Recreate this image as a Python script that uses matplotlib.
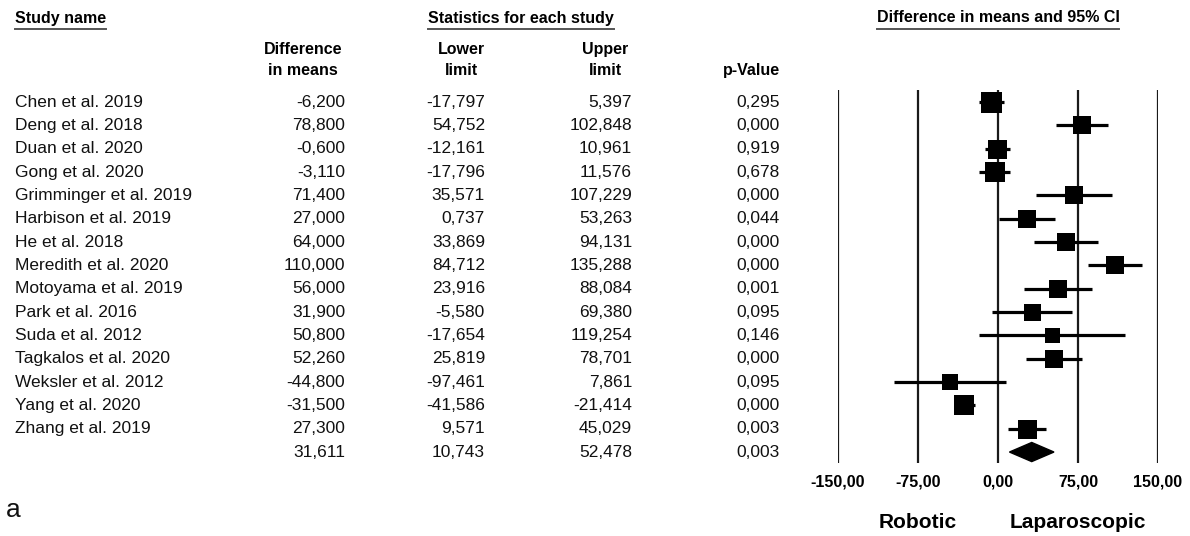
import numpy as np
import matplotlib
matplotlib.use('Agg')
import matplotlib.pyplot as plt
from matplotlib.transforms import blended_transform_factory
from matplotlib.lines import Line2D

plt.rcParams['font.family'] = ['Liberation Sans', 'DejaVu Sans']

# data
study_names = ['Chen et al. 2019', 'Deng et al. 2018', 'Duan et al. 2020', 'Gong et al. 2020',
               'Grimminger et al. 2019', 'Harbison et al. 2019', 'He et al. 2018', 'Meredith et al. 2020',
               'Motoyama et al. 2019', 'Park et al. 2016', 'Suda et al. 2012', 'Tagkalos et al. 2020',
               'Weksler et al. 2012', 'Yang et al. 2020', 'Zhang et al. 2019']
diff_means = [-6.200, 78.800, -0.600, -3.110, 71.400, 27.000, 64.000, 110.000,
              56.000, 31.900, 50.800, 52.260, -44.800, -31.500, 27.300]
lower_limit = [-17.797, 54.752, -12.161, -17.796, 35.571, 0.737, 33.869, 84.712,
               23.916, -5.580, -17.654, 25.819, -97.461, -41.586, 9.571]
upper_limit = [5.397, 102.848, 10.961, 11.576, 107.229, 53.263, 94.131, 135.288,
               88.084, 69.380, 119.254, 78.701, 7.861, -21.414, 45.029]
p_values = [0.295, 0.000, 0.919, 0.678, 0.000, 0.044, 0.000, 0.000,
            0.001, 0.095, 0.146, 0.000, 0.095, 0.000, 0.003]
# relative weight (box size) of each study
weights = [21, 18, 19, 20, 18, 18, 18, 18, 18, 17, 15, 18, 16, 20, 19]

# pooled estimate
pooled_diff = 31.611
pooled_lower = 10.743
pooled_upper = 52.478
pooled_p = 0.003

x_ticks = [-150, -75, 0, 75, 150]
x_tick_labels = ['-150,00', '-75,00', '0,00', '75,00', '150,00']


def fmt(v):
    # european decimal comma
    return ('%.3f' % v).replace('.', ',')


fig = plt.figure(figsize=(11.9, 5.36), dpi=100)

# pixel based axes for the table part
ax_tab = fig.add_axes([0, 0, 1, 1])
ax_tab.set_xlim(0, 1190)
ax_tab.set_ylim(536, 0)
ax_tab.axis('off')

# forest plot axes
ax = fig.add_axes([838 / 1190, 1 - 463 / 536, 320 / 1190, 373 / 536])
ax.set_facecolor('none')
n = len(study_names)
rows = np.arange(n)
ax.set_xlim(-150, 150)
ax.set_ylim(15.47, -0.515)

for xt in x_ticks:
    ax.axvline(xt, color='#1a1a1a', lw=1.6, zorder=1)

ax.hlines(rows, lower_limit, upper_limit, color='black', lw=2.3, zorder=2)
for i in range(n):
    ax.plot(diff_means[i], rows[i], marker='s', color='black', markersize=weights[i] * 0.72,
            markeredgewidth=0, zorder=3)

# pooled diamond
r = n
h = 0.41
ax.fill([pooled_lower, pooled_diff, pooled_upper, pooled_diff], [r, r - h, r, r + h],
        color='black', zorder=3)

ax.set_xticks(x_ticks)
ax.set_xticklabels(x_tick_labels, fontsize=11.5, fontweight='bold')
ax.tick_params(axis='x', length=0, pad=8)
ax.set_yticks([])
for s in ax.spines.values():
    s.set_visible(False)

# table text, rows follow the forest plot rows
tr = blended_transform_factory(ax_tab.transData, ax.transData)
fs = 12.5
for i in range(n):
    ax_tab.text(15, rows[i], study_names[i], transform=tr, fontsize=fs, va='center', ha='left', color='#111111')
    ax_tab.text(345, rows[i], fmt(diff_means[i]), transform=tr, fontsize=fs, va='center', ha='right', color='#111111')
    ax_tab.text(485, rows[i], fmt(lower_limit[i]), transform=tr, fontsize=fs, va='center', ha='right', color='#111111')
    ax_tab.text(632, rows[i], fmt(upper_limit[i]), transform=tr, fontsize=fs, va='center', ha='right', color='#111111')
    ax_tab.text(780, rows[i], fmt(p_values[i]), transform=tr, fontsize=fs, va='center', ha='right', color='#111111')
ax_tab.text(345, n, fmt(pooled_diff), transform=tr, fontsize=fs, va='center', ha='right', color='#111111')
ax_tab.text(485, n, fmt(pooled_lower), transform=tr, fontsize=fs, va='center', ha='right', color='#111111')
ax_tab.text(632, n, fmt(pooled_upper), transform=tr, fontsize=fs, va='center', ha='right', color='#111111')
ax_tab.text(780, n, fmt(pooled_p), transform=tr, fontsize=fs, va='center', ha='right', color='#111111')

# headers
hfs = 11.5
t1 = ax_tab.text(15, 18, 'Study name', fontsize=hfs, fontweight='bold', ha='left', va='center')
t2 = ax_tab.text(521, 18, 'Statistics for each study', fontsize=hfs, fontweight='bold', ha='center', va='center')
t3 = ax_tab.text(998, 18, 'Difference in means and 95% CI', fontsize=hfs, fontweight='bold', ha='center', va='center')
ax_tab.text(303, 60, 'Difference\nin means', fontsize=hfs, fontweight='bold', ha='center', va='center',
            linespacing=1.45)
ax_tab.text(461, 60, 'Lower\nlimit', fontsize=hfs, fontweight='bold', ha='center', va='center', linespacing=1.45)
ax_tab.text(605, 60, 'Upper\nlimit', fontsize=hfs, fontweight='bold', ha='center', va='center', linespacing=1.45)
ax_tab.text(780, 70, 'p-Value', fontsize=hfs, fontweight='bold', ha='right', va='center')

# underline the top headers
fig.canvas.draw()
renderer = fig.canvas.get_renderer()
for t in [t1, t2, t3]:
    bb = t.get_window_extent(renderer)
    x0 = bb.x0 / fig.dpi / 11.9
    x1 = bb.x1 / fig.dpi / 11.9
    y = 1 - 28.5 / 536
    fig.add_artist(Line2D([x0, x1], [y, y], color='#555555', lw=1.4))

# direction labels
tr2 = blended_transform_factory(ax.transData, ax_tab.transData)
ax.text(-75, 523, 'Robotic', transform=tr2, fontsize=15, fontweight='bold', ha='center', va='center')
ax.text(75, 523, 'Laparoscopic', transform=tr2, fontsize=15, fontweight='bold', ha='center', va='center')

ax_tab.text(6, 510, 'a', fontsize=19, ha='left', va='center', color='#111111')

fig.savefig('out.png', dpi=100)
